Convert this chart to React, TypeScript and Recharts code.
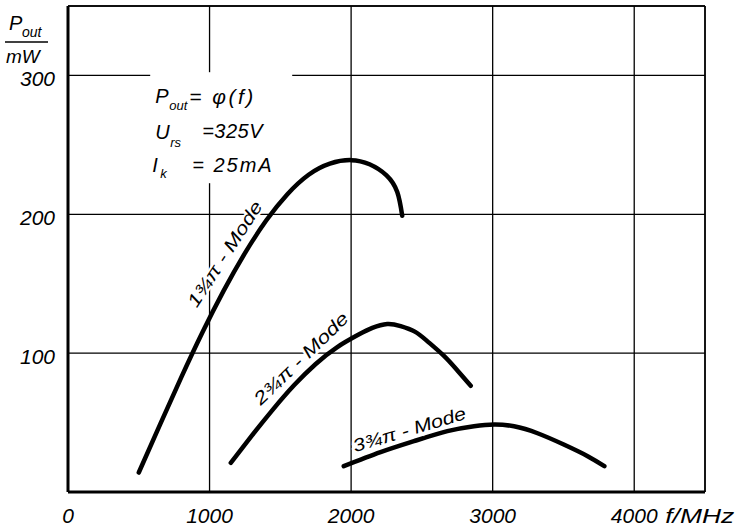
import {
  CartesianGrid,
  Line,
  LineChart,
  ReferenceDot,
  ReferenceLine,
  XAxis,
  YAxis,
} from "recharts";

const xTicks = [0, 1000, 2000, 3000, 4000];
const yTicks = [100, 200, 300];

// 1 3/4 pi mode
const mode1F = [500, 650, 800, 950, 1100, 1250, 1400, 1550, 1700, 1850, 2000, 2130, 2250, 2326, 2361];
const mode1P = [14, 48.5, 82.5, 115, 145, 172, 195.5, 214.5, 228.5, 236.5, 239, 236, 228, 216, 199];

// 2 3/4 pi mode
const mode2F = [1150, 1300, 1450, 1600, 1750, 1900, 2050, 2150, 2255, 2350, 2450, 2540, 2656, 2751, 2845];
const mode2P = [21, 40.7, 59.7, 77.2, 92.2, 104.2, 113.2, 118.2, 121, 119.5, 115.5, 108.5, 98, 87.5, 76.5];

// 3 3/4 pi mode
const mode3F = [1948, 2208, 2444, 2680, 2868, 3010, 3151, 3317, 3506, 3671, 3789];
const mode3P = [18.6, 28.7, 36.6, 43.8, 47.4, 48.6, 47.3, 42.3, 34, 25.8, 18.6];

const modeLabels = ["1¾π - Mode", "2¾π - Mode", "3¾π - Mode"];
// where each label sits (f, P) and how it is turned
const labelF = [1145, 1677, 2424];
const labelP = [169, 93, 40.7];
const labelAngle = [-57, -44, -16.7];
const labelLen = [122, 124, 117];

const noteF = 616;
const noteP = 280;

const toPoints = (fs: number[], ps: number[]) => fs.map((f, i) => ({ f, p: ps[i] }));
const mode1 = toPoints(mode1F, mode1P);
const mode2 = toPoints(mode2F, mode2P);
const mode3 = toPoints(mode3F, mode3P);

const font = "'Liberation Sans', Arial, sans-serif";
const narrow = "'Liberation Sans Narrow', 'Liberation Sans', Arial, sans-serif";
const txt = { fontFamily: font, fontStyle: "italic", fill: "#000" } as const;
const num = { fontFamily: narrow, fontStyle: "italic", fill: "#000" } as const;

const XTick = ({ x, y, payload }: any) => (
  <g>
    <text x={x} y={y + 31} textAnchor="middle" fontSize={21} {...num}>
      {payload.value}
    </text>
    {payload.value === 4000 && (
      <text x={x + 31} y={y + 31} fontSize={21} textLength={69} lengthAdjust="spacingAndGlyphs" {...txt}>
        f/MHz
      </text>
    )}
  </g>
);

const YTick = ({ x, y, payload }: any) => (
  <text x={x} y={y + 11} textAnchor="end" fontSize={21} {...num}>
    {payload.value}
  </text>
);

const YLabel = ({ viewBox }: any) => {
  const x0 = viewBox?.x ?? 0;
  const y0 = (viewBox?.y ?? 6) - 6;
  return (
    <g>
      <text x={x0 + 9} y={y0 + 30} fontSize={20} {...txt}>P</text>
      <text x={x0 + 22} y={y0 + 37} fontSize={14} {...txt}>out</text>
      <line x1={x0 + 5} x2={x0 + 48} y1={y0 + 42} y2={y0 + 42} stroke="#000" strokeWidth={1.5} />
      <text x={x0 + 6} y={y0 + 63} fontSize={19} {...txt}>mW</text>
    </g>
  );
};

const Notes = ({ cx, cy }: any) => (
  <g>
    <rect x={cx - 5} y={cy - 31} width={142} height={111} fill="#fff" />
    <text x={cx} y={cy} fontSize={20} {...txt}>P</text>
    <text x={cx + 14} y={cy + 7} fontSize={13} {...txt}>out</text>
    <text x={cx + 34} y={cy + 1} fontSize={21} letterSpacing={2.5} {...txt}>= φ(f)</text>
    <text x={cx} y={cy + 36} fontSize={20} {...txt}>U</text>
    <text x={cx + 15} y={cy + 44} fontSize={13} {...txt}>rs</text>
    <text x={cx + 47} y={cy + 35} fontSize={20} letterSpacing={0.5} {...txt}>=325V</text>
    <text x={cx - 3} y={cy + 69} fontSize={20} {...txt}>I</text>
    <text x={cx + 5} y={cy + 75} fontSize={13} {...txt}>k</text>
    <text x={cx + 37} y={cy + 69} fontSize={20} letterSpacing={2} {...txt}>= 25mA</text>
  </g>
);

const modeLabel = (i: number) => ({ cx, cy }: any) => (
  <text
    x={cx}
    y={cy}
    transform={`rotate(${labelAngle[i]} ${cx} ${cy})`}
    textAnchor="middle"
    fontSize={18}
    textLength={labelLen[i]}
    lengthAdjust="spacingAndGlyphs"
    stroke="#fff"
    strokeWidth={4}
    paintOrder="stroke"
    {...txt}
  >
    {modeLabels[i]}
  </text>
);

export default function App() {
  return (
    <div style={{ position: "absolute", left: 0, top: 0, background: "#fff" }}>
      <LineChart width={737} height={531} margin={{ top: 6, right: 32, bottom: 0, left: 0 }}>
        <CartesianGrid stroke="#000" strokeWidth={1.3} />
        <XAxis
          dataKey="f"
          type="number"
          domain={[0, 4500]}
          ticks={xTicks}
          allowDataOverflow
          height={39}
          tickSize={0}
          tickMargin={0}
          tickLine={false}
          axisLine={{ stroke: "#000", strokeWidth: 3 }}
          tick={<XTick />}
        />
        <YAxis
          type="number"
          domain={[0, 350]}
          ticks={yTicks}
          allowDataOverflow
          width={68}
          tickSize={0}
          tickMargin={13}
          tickLine={false}
          axisLine={{ stroke: "#000", strokeWidth: 3 }}
          tick={<YTick />}
          label={{ content: <YLabel /> }}
        />
        <ReferenceLine y={350} stroke="#000" strokeWidth={1.5} />
        <ReferenceLine x={4500} stroke="#000" strokeWidth={1.5} />
        <ReferenceDot x={noteF} y={noteP} r={0} shape={(p: any) => <Notes {...p} />} />
        {modeLabels.map((_, i) => (
          <ReferenceDot key={i} x={labelF[i]} y={labelP[i]} r={0} shape={modeLabel(i)} />
        ))}
        <Line data={mode1} dataKey="p" type="natural" stroke="#000" strokeWidth={4.5} strokeLinecap="round" dot={false} isAnimationActive={false} />
        <Line data={mode2} dataKey="p" type="natural" stroke="#000" strokeWidth={4.5} strokeLinecap="round" dot={false} isAnimationActive={false} />
        <Line data={mode3} dataKey="p" type="natural" stroke="#000" strokeWidth={4.5} strokeLinecap="round" dot={false} isAnimationActive={false} />
      </LineChart>
    </div>
  );
}
